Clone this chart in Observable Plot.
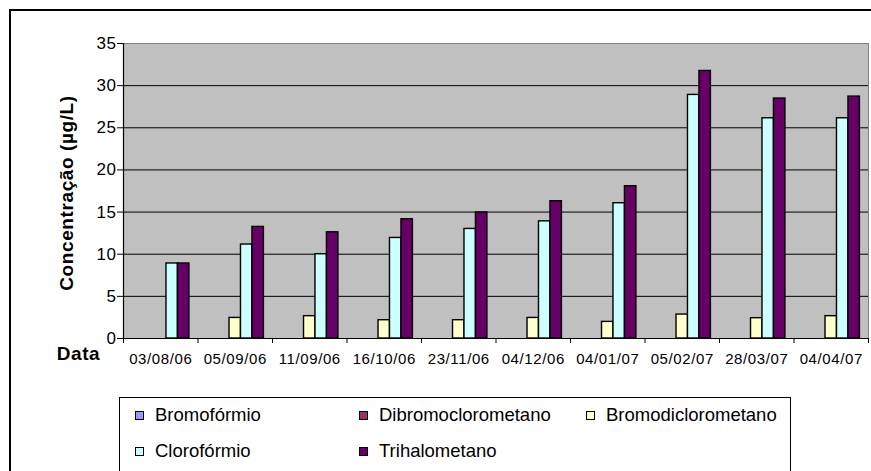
<!DOCTYPE html>
<html>
<head>
<meta charset="utf-8">
<script src="https://cdn.jsdelivr.net/npm/d3@7"></script>
<script src="https://cdn.jsdelivr.net/npm/@observablehq/plot@0.6"></script>
<style>
  body { margin: 0; background: #fff; font-family: "Liberation Sans", Arial, sans-serif; }
  #chart { position: relative; width: 871px; height: 471px; overflow: hidden; background: #fff; }
  #outline { position: absolute; left: 9px; top: 9px; width: 900px; height: 520px; border: 2px solid #000; box-sizing: border-box; }
  #plot { position: absolute; left: 0; top: 0; }
  #legend { position: absolute; left: 119px; top: 397px; width: 672px; height: 120px; border: 1.5px solid #000; box-sizing: border-box; background: #fff; font-size: 18.5px; color: #000; }
  .item { position: absolute; display: flex; align-items: center; white-space: nowrap; }
  .sw { width: 7px; height: 7px; border: 1px solid #000; margin-right: 11px; }
</style>
</head>
<body>
<div id="chart">
  <div id="outline"></div>
  <div id="plot"></div>
  <div id="legend"></div>
</div>
<script>
// Sampling dates
const dates = ["03/08/06", "05/09/06", "11/09/06", "16/10/06", "23/11/06",
               "04/12/06", "04/01/07", "05/02/07", "28/03/07", "04/04/07"];

// Concentrations (µg/L) per compound
const bromoformio        = [0, 0, 0, 0, 0, 0, 0, 0, 0, 0];
const dibromoclorometano = [0, 0, 0, 0, 0, 0, 0, 0, 0, 0];
const bromodiclorometano = [null, 2.44, 2.65, 2.17, 2.17, 2.44, 1.97, 2.84, 2.41, 2.65];
const cloroformio        = [8.9, 11.15, 10.0, 11.93, 13.0, 13.9, 16.05, 28.9, 26.13, 26.13];
const trihalometano      = [8.9, 13.24, 12.6, 14.15, 14.95, 16.29, 18.07, 31.74, 28.47, 28.7];

const seriesNames  = ["Bromofórmio", "Dibromoclorometano", "Bromodiclorometano", "Clorofórmio", "Trihalometano"];
const seriesValues = [bromoformio, dibromoclorometano, bromodiclorometano, cloroformio, trihalometano];
const seriesColors = ["#9999ff", "#993366", "#ffffcc", "#ccffff", "#660066"];
const yTicks = [0, 5, 10, 15, 20, 25, 30, 35];

// Clustered columns: each date occupies one unit on x, gap of 150% of a bar width
const nSeries = seriesNames.length;
const gap = 1.5;
const step = 1 / (nSeries + gap);
const rows = [];
seriesValues.forEach((vals, j) => vals.forEach((v, i) => {
  if (v != null && v > 0) rows.push({i, j, name: seriesNames[j], value: v});
}));

const font = '"Liberation Sans", Arial, sans-serif';

const plot = Plot.plot({
  width: 871,
  height: 390,
  marginLeft: 123,
  marginRight: 3,
  marginTop: 43,
  marginBottom: 52,
  style: {fontFamily: font, color: "#000", background: "transparent", overflow: "visible"},
  x: {domain: [0, dates.length], axis: null},
  y: {domain: [0, 35], axis: null},
  color: {domain: seriesNames, range: seriesColors},
  marks: [
    Plot.frame({fill: "#c0c0c0", stroke: "#808080", strokeWidth: 1}),
    Plot.ruleY(yTicks.filter(t => t > 0 && t < 35), {stroke: "#000", strokeWidth: 1}),
    Plot.rectY(rows, {
      x1: d => d.i + (gap / 2 + d.j) * step,
      x2: d => d.i + (gap / 2 + d.j + 1) * step,
      y1: 0,
      y2: "value",
      fill: "name",
      stroke: "#000",
      strokeWidth: 1.4
    }),
    Plot.ruleY([0], {stroke: "#000", strokeWidth: 1.2}),
    Plot.ruleX([0], {stroke: "#000", strokeWidth: 1.2}),
    // y axis ticks and labels
    Plot.axisY(yTicks, {tickSize: 6, tickPadding: 1, fontSize: 17, stroke: "#000", label: null}),
    // category boundary ticks
    Plot.axisX(d3.range(dates.length + 1), {tickSize: 5, tickFormat: () => "", stroke: "#000", label: null}),
    // date labels centred under each cluster
    Plot.axisX(dates.map((d, i) => i + 0.5), {
      tickSize: 0, tickPadding: 15, fontSize: 15, label: null,
      tickFormat: t => dates[Math.floor(t)]
    }),
    Plot.text(["Data"], {frameAnchor: "bottom-left", textAnchor: "middle", dx: -45, dy: 21, fontSize: 19, fontWeight: "bold", fill: "#000"}),
    Plot.text(["Concentração (µg/L)"], {frameAnchor: "left", textAnchor: "middle", dx: -57, dy: 2, rotate: -90, fontSize: 19, fontWeight: "bold", fill: "#000"})
  ]
});
plot.querySelectorAll("text").forEach(t => t.setAttribute("letter-spacing", "0.6"));
document.getElementById("plot").appendChild(plot);

// Legend
const legendPos = [[15, 17], [239, 17], [466, 17], [15, 53], [239, 53]];
const legend = document.getElementById("legend");
seriesNames.forEach((name, k) => {
  const item = document.createElement("div");
  item.className = "item";
  item.style.left = legendPos[k][0] + "px";
  item.style.top = (legendPos[k][1] - 12) + "px";
  item.style.height = "24px";
  const sw = document.createElement("span");
  sw.className = "sw";
  sw.style.background = seriesColors[k];
  const label = document.createElement("span");
  label.textContent = name;
  item.appendChild(sw);
  item.appendChild(label);
  legend.appendChild(item);
});
</script>
</body>
</html>
